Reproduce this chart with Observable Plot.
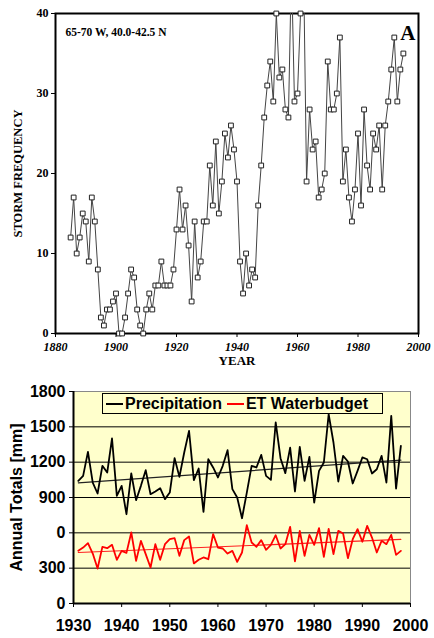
<!DOCTYPE html>
<html><head><meta charset="utf-8">
<script src="https://cdn.jsdelivr.net/npm/d3@7"></script>
<script src="https://cdn.jsdelivr.net/npm/@observablehq/plot@0.6"></script>
<style>
body{margin:0;background:#fff;}
#wrap{position:relative;width:434px;height:638px;overflow:hidden;background:#fff;}
#topchart{position:absolute;left:0;top:0;}
#botchart{position:absolute;left:0;top:380px;}
#legend{position:absolute;left:102px;top:393px;width:279px;height:19px;border:1px solid #000;background:#FFFFCC;
  display:flex;align-items:center;font-family:Arial,'Liberation Sans',sans-serif;font-weight:bold;font-size:16px;color:#000;box-sizing:content-box;}
#legend .sw{display:inline-block;width:17px;height:0;border-top:2px solid #000;margin:0 2px 0 3px;}
#legend .sw.red{border-top-color:#FF0000;margin-left:5px;}
</style></head><body>
<div id="wrap"><div id="topchart"></div><div id="botchart"></div>
<div id="legend"><span class="sw"></span><span id="lg1"></span><span class="sw red"></span><span id="lg2"></span></div>
</div>
<script>
// ---------- Panel A: storm frequency ----------
const stormStartYear = 1885;
const stormFreq = [12,17,10,12,15,14,9,17,14,8, 2,1,3,3,4,5,0,0,2,5, 8,7,3,1,0,3,5,3,6,6, 9,6,6,6,8,13,18,13,16,11, 4,14,7,9,14,14,21,16,24,15, 19,25,22,26,23,19,9,5,10,6, 8,7,16,21,27,31,34,29,40,32, 33,28,27,46,29,30,40,46,19,28, 23,24,17,18,20,34,28,28,30,37, 19,23,17,14,18,25,16,28,21,18, 25,23,26,18,26,29,33,37,29,33, 35];
const stormXTicks = [1880,1900,1920,1940,1960,1980,2000];
const stormYTicks = [0,10,20,30,40];
const stormRegion = "65-70 W, 40.0-42.5 N";
const panelLetter = "A";
const stormXLabel = "YEAR";
const stormYLabel = "STORM FREQUENCY";

// ---------- Panel B: annual totals ----------
const annualStartYear = 1931;
const precipitation = [1041,1084,1288,1027,934,1169,1112,1401,914,999, 758,1104,877,999,1132,928,951,979,886,942, 1234,1075,1282,1466,1047,1146,778,1225,1155,1070, 1169,1302,971,900,724,942,1169,1155,1262,1084, 1050,1537,1234,1107,1324,951,1330,1041,1245,857, 1126,1197,1607,1367,1036,1254,1206,1019,1126,1240, 1225,1104,1140,1254,1027,1593,976,1339];
const etWaterbudget = [447,475,512,424,297,481,470,498,371,447, 430,603,362,532,419,306,504,371,504,546, 555,405,538,569,340,371,391,376,589,475, 467,424,447,354,433,665,518,481,538,456, 498,580,467,504,651,357,617,405,583,498, 640,396,634,419,617,594,385,546,631,524, 659,560,433,532,504,583,413,447];
const trendYears = [1931,1998];
const precipTrend = [1025,1217];
const etTrend = [433,545];
const annualXTicks = [1930,1940,1950,1960,1970,1980,1990,2000];
const annualYTicks = [0,300,600,900,1200,1500,1800];
const annualYTickLabels = ["0","300","0","900","1200","1500","1800"];
const annualGrid = [300,600,900,1200,1500];
const annualYLabel = "Annual Totals [mm]";
const seriesNames = ["Precipitation","ET Waterbudget"];

const serif = "'Liberation Serif','Times New Roman',serif";
const sans = "Arial,'Liberation Sans',sans-serif";

const storm = stormFreq.map((v,i)=>({year: stormStartYear+i, v}));
const stormX = [1880,2000], stormY = [0,40];

const chartA = Plot.plot({
  width:434, height:380, marginLeft:55, marginRight:16, marginTop:13, marginBottom:47,
  x:{domain:stormX}, y:{domain:stormY},
  style:{fontFamily:serif, fontWeight:"bold", fontSize:"12px", background:"white", color:"black"},
  marks:[
    Plot.frame({stroke:"black", strokeWidth:2}),
    Plot.line(storm,{x:"year",y:"v",stroke:"#444",strokeWidth:1,clip:"frame"}),
    Plot.dot(storm,{x:"year",y:"v",filter:d=>d.v<=stormY[1],symbol:"square",r:2.7,fill:"white",stroke:"#222",strokeWidth:1}),
    Plot.axisX({ticks:stormXTicks, tickFormat:d=>String(d), tickSize:4, tickPadding:5, label:null, fontSize:12, fontWeight:"bold", fontStyle:"italic"}),
    Plot.axisY({ticks:stormYTicks, tickSize:4, tickPadding:3, label:null, fontSize:12, fontWeight:"bold"}),
    Plot.text([stormXLabel],{frameAnchor:"bottom", dy:31, fontSize:13, fontWeight:"bold", fontFamily:serif}),
    Plot.text([stormYLabel],{frameAnchor:"left", textAnchor:"middle", dx:-38, rotate:-90, fontSize:12.5, fontWeight:"bold", fontFamily:serif}),
    Plot.text([stormRegion],{frameAnchor:"top-left", dx:10, dy:14.5, textAnchor:"start", fontSize:11.5, fontWeight:"bold", fontFamily:serif}),
    Plot.text([panelLetter],{frameAnchor:"top-right", dx:-3, dy:12, textAnchor:"end", fontSize:21, fontWeight:"bold", fontFamily:serif})
  ]
});
document.getElementById("topchart").appendChild(chartA);

const pData = precipitation.map((v,i)=>({year: annualStartYear+i, v}));
const eData = etWaterbudget.map((v,i)=>({year: annualStartYear+i, v}));
const pTrend = trendYears.map((y,i)=>({year:y, v:precipTrend[i]}));
const eTrend = trendYears.map((y,i)=>({year:y, v:etTrend[i]}));
const annX = [1930,2000], annY = [0,1800];

const chartB = Plot.plot({
  width:434, height:258, marginLeft:73, marginRight:24, marginTop:11, marginBottom:35,
  x:{domain:annX}, y:{domain:annY},
  style:{fontFamily:sans, fontWeight:"bold", fontSize:"16px", background:"white", color:"black"},
  marks:[
    Plot.frame({fill:"#FFFFCC", stroke:"#888", strokeWidth:1}),
    Plot.ruleY(annualGrid,{stroke:"black", strokeWidth:1}),
    Plot.line(pTrend,{x:"year",y:"v",stroke:"#222",strokeWidth:1.2}),
    Plot.line(eTrend,{x:"year",y:"v",stroke:"#FF2020",strokeWidth:1.2}),
    Plot.line(pData,{x:"year",y:"v",stroke:"black",strokeWidth:1.8}),
    Plot.line(eData,{x:"year",y:"v",stroke:"#FF0000",strokeWidth:1.8}),
    Plot.ruleX([annX[0]],{stroke:"black",strokeWidth:2}),
    Plot.ruleY([annY[0]],{stroke:"black",strokeWidth:2}),
    Plot.axisY({ticks:annualYTicks, tickFormat:d=>annualYTickLabels[annualYTicks.indexOf(d)], tickSize:4, tickPadding:4, label:null, fontSize:16, fontWeight:"bold"}),
    Plot.axisX({ticks:annualXTicks, tickFormat:d=>String(d), tickSize:4, tickPadding:12, label:null, fontSize:16, fontWeight:"bold"}),
    Plot.text([annualYLabel],{frameAnchor:"left", textAnchor:"middle", dx:-57, rotate:-90, fontSize:16, fontWeight:"bold", fontFamily:sans})
  ]
});
document.getElementById("botchart").appendChild(chartB);
document.getElementById("lg1").textContent = seriesNames[0];
document.getElementById("lg2").textContent = seriesNames[1];
</script>
</body></html>
